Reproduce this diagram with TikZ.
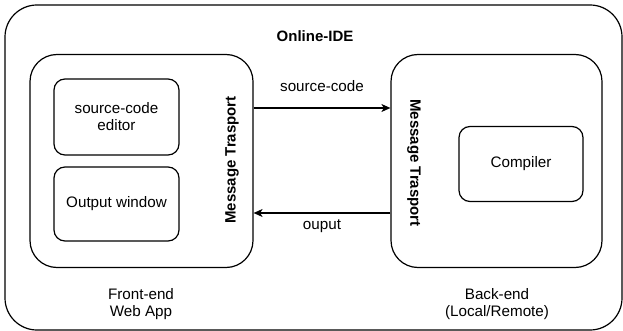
\documentclass[tikz,border=0pt]{standalone}
\usepackage{fontspec}
\setmainfont{Liberation Sans}
\usetikzlibrary{arrows.meta}
\begin{document}
\begin{tikzpicture}[x=1pt,y=-1pt,
  lw/.style={line width=1.2pt},
  frame/.style={draw,lw,rectangle,inner sep=0pt},
  inbox/.style={frame,rounded corners=11pt,align=center},
  txt/.style={font=\fontsize{15.2}{17}\selectfont,align=center,inner sep=0pt},
  btxt/.style={txt,font=\fontsize{15}{17}\selectfont\bfseries},
  link/.style={lw,-{Stealth[length=9pt,width=8pt,inset=2.5pt]}}]
\useasboundingbox (0,0) rectangle (623,331);
% outer container
\node[frame,rounded corners=32pt,minimum width=617pt,minimum height=325pt] (ide) at (313.5,167.5) {};
\node[btxt] (title) at (315,36) {Online-IDE};
% front-end block
\node[frame,rounded corners=27pt,minimum width=223pt,minimum height=213pt] (fe) at (141.5,161) {};
\node[inbox,minimum width=125pt,minimum height=76pt,txt] (editor) at (116.5,117) {source-code\\editor};
\node[inbox,minimum width=125pt,minimum height=74pt,txt] (outwin) at (116.5,204) {Output window};
\node[btxt,rotate=90] (mtl) at (232,160) {Message Trasport};
% back-end block
\node[frame,rounded corners=27pt,minimum width=211pt,minimum height=213pt] (be) at (496.5,161) {};
\node[btxt,rotate=-90] (mtr) at (414,163) {Message Trasport};
\node[inbox,minimum width=124pt,minimum height=75pt,txt] (comp) at (521,164) {Compiler};
% messages between the two ends
\draw[link] ([yshift=53pt]fe.east) -- node[txt,above=16pt] (sc) {source-code} ([yshift=53pt]be.west);
\draw[link] ([yshift=-52pt]be.west) -- node[txt,below=6pt] (op) {ouput} ([yshift=-52pt]fe.east);
% captions
\node[txt] (fecap) at (141,304) {Front-end\\Web App};
\node[txt] (becap) at (497,304) {Back-end\\(Local/Remote)};
\end{tikzpicture}
\end{document}
